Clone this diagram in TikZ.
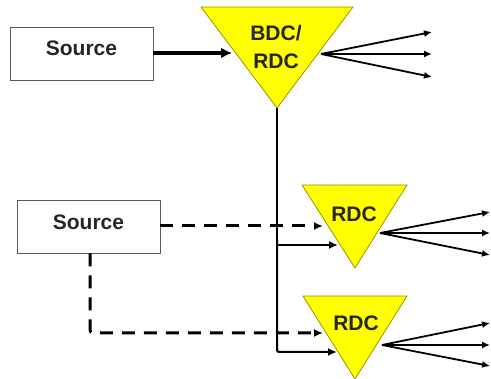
\documentclass[tikz,border=0pt]{standalone}
\usepackage{fontspec}
\setmainfont{Liberation Sans}
\usetikzlibrary{arrows.meta}
\definecolor{tri}{RGB}{255,255,0}
\definecolor{triedge}{RGB}{150,150,0}
\tikzset{
  srcbox/.style={draw=black!65, line width=0.9pt, minimum width=143pt, minimum height=53pt,
    inner sep=0pt, font=\fontsize{21}{24}\selectfont\bfseries, text=black!85},
  dcfill/.style={fill=tri, draw=triedge, line width=0.8pt, line join=round},
  dclabel/.style={font=\fontsize{21}{28}\selectfont\bfseries, text=black!85, align=center, inner sep=0pt},
  backup/.style={line width=3pt, dash pattern=on 13pt off 9pt, -{Latex[length=9pt,width=8pt]}},
  trunk/.style={line width=2pt},
  fan/.style={line width=1.8pt, -{Latex[length=8pt,width=7pt]}},
}
\begin{document}
\begin{tikzpicture}[x=1pt,y=-1pt]
\useasboundingbox (0,0) rectangle (491,379);

% distribution centres
\path[dcfill] (201,7) -- (353,7) -- (277,108) -- cycle;
\path[dcfill] (302,185) -- (407,185) -- (355,268) -- cycle;
\path[dcfill] (303,296) -- (407,296) -- (355,379) -- cycle;
\node[dclabel] (bdc) at (276,47) {BDC/\\RDC};
\node[dclabel] (rdcA) at (354,214) {RDC};
\node[dclabel] (rdcB) at (356,323) {RDC};

% sources (labels sit a little above the box centre)
\node[srcbox] (srcA) at (81.5,53.5) {\raisebox{10pt}{Source}};
\node[srcbox] (srcB) at (88.5,226.5) {\raisebox{8pt}{Source}};

% attachment points on the triangles
\coordinate (bdcIn) at (232,53);
\coordinate (bdcOut) at (321,54);
\coordinate (bdcApex) at (277,108);
\coordinate (rdcAdash) at (323,226);
\coordinate (rdcAfeed) at (338,245);
\coordinate (rdcAout) at (380,233);
\coordinate (rdcBdash) at (323,333);
\coordinate (rdcBfeed) at (337,352);
\coordinate (rdcBout) at (382,345);

% primary supply
\draw[line width=4pt, -{Latex[length=11pt,width=11pt]}] (srcA.east |- bdcIn) -- (bdcIn);

% trunk from BDC/RDC to the regional centres
\draw[trunk] (bdcApex) -- (277,245);
\draw[trunk, rounded corners=2pt, -{Latex[length=9pt,width=8pt]}] (277,245) -- (rdcAfeed);
\draw[trunk, rounded corners=2pt, -{Latex[length=9pt,width=8pt]}] (277,240) -- (277,352) -- (rdcBfeed);

% secondary supply (dashed)
\draw[backup] (srcB.east |- rdcAdash) -- (rdcAdash);
\draw[backup, rounded corners=3pt] (90,253.5) -- (90,333) -- (rdcBdash);

% outbound fans
\foreach \y in {32,54,77} \draw[fan] (bdcOut) -- (432,\y);
\foreach \y in {212,233,255} \draw[fan] (rdcAout) -- (490,\y);
\foreach \y in {323,345,366} \draw[fan] (rdcBout) -- (490,\y);
\end{tikzpicture}
\end{document}
